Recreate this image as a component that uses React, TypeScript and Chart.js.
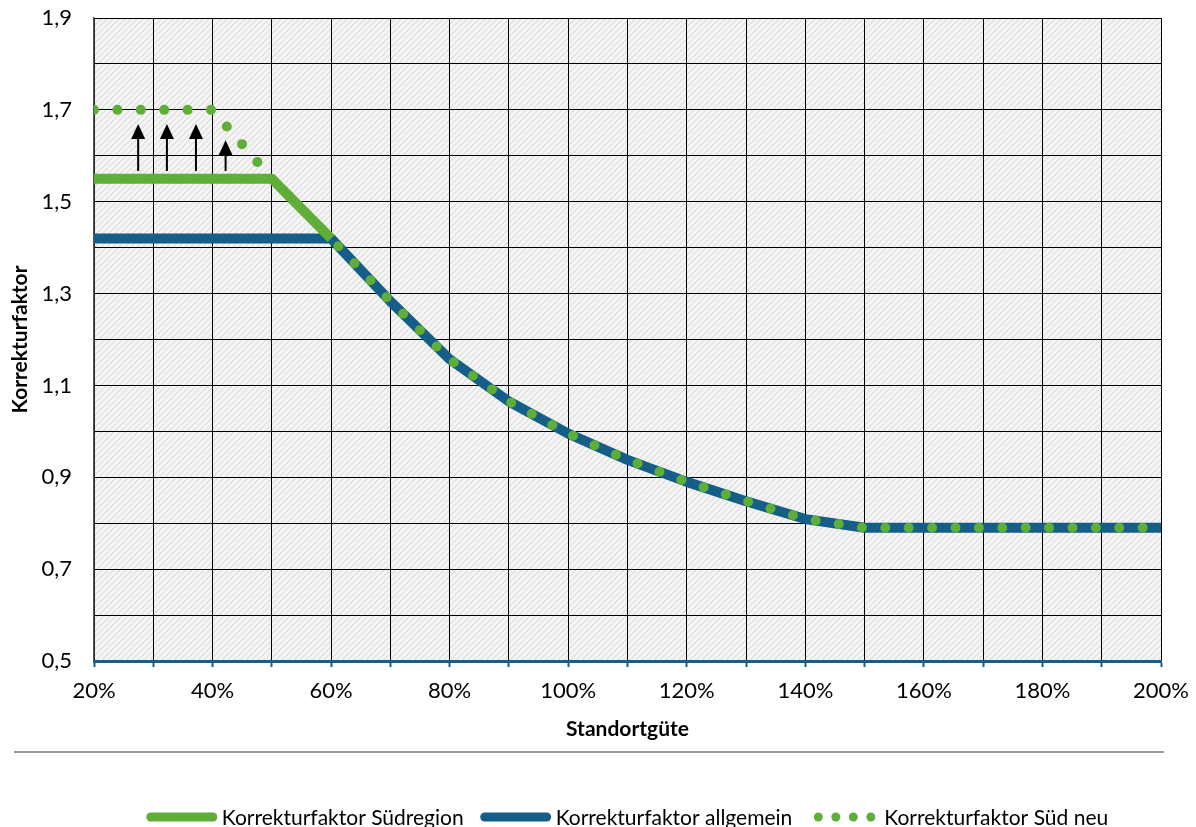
import React, { useEffect, useRef } from "react";
import { Chart, registerables } from "chart.js";

Chart.register(...registerables);

// ---- data ----
const suedregionX = [20, 50, 60];
const suedregionY = [1.55, 1.55, 1.42];

const allgemeinX = [20, 60, 70, 80, 90, 100, 110, 120, 130, 140, 150, 200];
const allgemeinY = [1.42, 1.42, 1.283, 1.157, 1.065, 0.995, 0.938, 0.89, 0.848, 0.809, 0.79, 0.79];

const suedNeuX = [20, 40, 50, 60, 70, 80, 90, 100, 110, 120, 130, 140, 150, 200];
const suedNeuY = [1.7, 1.7, 1.55, 1.42, 1.283, 1.157, 1.065, 0.995, 0.938, 0.89, 0.848, 0.809, 0.79, 0.79];

const arrowX = [27.45, 32.3, 37.2, 42.2];
const arrowFrom = [1.567, 1.567, 1.567, 1.567];
const arrowTo = [1.669, 1.669, 1.669, 1.634];

const xLabeledTicks = [20, 40, 60, 80, 100, 120, 140, 160, 180, 200];
const yLabeledTicks = [0.5, 0.7, 0.9, 1.1, 1.3, 1.5, 1.7, 1.9];

const seriesNames = ["Korrekturfaktor Südregion", "Korrekturfaktor allgemein", "Korrekturfaktor Süd neu"];
const GREEN = "#5FAE37";
const BLUE = "#155E88";
const FONT = "Lato";

const toPoints = (xs: number[], ys: number[]) => xs.map((x, i) => ({ x, y: ys[i] }));

const hatchPlugin = {
  id: "hatch",
  beforeDraw(chart: any) {
    const { ctx, chartArea } = chart;
    const pc = document.createElement("canvas");
    pc.width = 6;
    pc.height = 6;
    const p = pc.getContext("2d")!;
    p.fillStyle = "#f6f6f6";
    p.fillRect(0, 0, 6, 6);
    p.strokeStyle = "#e3e3e3";
    p.lineWidth = 1.6;
    p.beginPath();
    for (let k = -1; k <= 1; k++) {
      p.moveTo(-1 + k * 6, 7);
      p.lineTo(7 + k * 6, -1);
    }
    p.stroke();
    const pat = ctx.createPattern(pc, "repeat");
    ctx.save();
    ctx.fillStyle = pat;
    ctx.fillRect(chartArea.left, chartArea.top, chartArea.right - chartArea.left, chartArea.bottom - chartArea.top);
    ctx.restore();
  },
};

const arrowPlugin = {
  id: "arrows",
  afterDatasetsDraw(chart: any) {
    const { ctx, scales } = chart;
    ctx.save();
    ctx.strokeStyle = "#000";
    ctx.fillStyle = "#000";
    arrowX.forEach((xv, i) => {
      const x = scales.x.getPixelForValue(xv);
      const y0 = scales.y.getPixelForValue(arrowFrom[i]);
      const y1 = scales.y.getPixelForValue(arrowTo[i]);
      ctx.lineWidth = 2;
      ctx.beginPath();
      ctx.moveTo(x, y0);
      ctx.lineTo(x, y1 + 12);
      ctx.stroke();
      ctx.beginPath();
      ctx.moveTo(x, y1);
      ctx.lineTo(x - 7, y1 + 15);
      ctx.lineTo(x + 7, y1 + 15);
      ctx.closePath();
      ctx.fill();
    });
    ctx.restore();
  },
};

const legendPlugin = {
  id: "customLegend",
  afterDraw(chart: any) {
    const { ctx, chartArea } = chart;
    ctx.save();
    // separator line
    ctx.strokeStyle = "#333";
    ctx.lineWidth = 1.2;
    ctx.beginPath();
    ctx.moveTo(14, 752);
    ctx.lineTo(1164, 752);
    ctx.stroke();

    ctx.font = `21px ${FONT}`;
    ctx.textBaseline = "middle";
    ctx.fillStyle = "#000";
    const markerW = 70;
    const gap = 5;
    const itemGap = 17;
    const widths = seriesNames.map((n) => ctx.measureText(n).width);
    const total = widths.reduce((a, w) => a + markerW + gap + w, 0) + itemGap * (seriesNames.length - 1);
    const cx = (chartArea.left + chartArea.right) / 2;
    let x = cx - total / 2;
    const y = 817;
    seriesNames.forEach((name, i) => {
      if (i < 2) {
        ctx.strokeStyle = i === 0 ? GREEN : BLUE;
        ctx.lineWidth = 9;
        ctx.lineCap = "round";
        ctx.beginPath();
        ctx.moveTo(x + 4, y);
        ctx.lineTo(x + markerW - 4, y);
        ctx.stroke();
      } else {
        ctx.fillStyle = GREEN;
        for (let k = 0; k < 4; k++) {
          ctx.beginPath();
          ctx.arc(x + 9 + k * 17.5, y, 4.5, 0, Math.PI * 2);
          ctx.fill();
        }
      }
      ctx.fillStyle = "#000";
      ctx.fillText(name, x + markerW + gap, y + 1);
      x += markerW + gap + widths[i] + itemGap;
    });
    ctx.restore();
  },
};

export default function App() {
  const ref = useRef<HTMLCanvasElement | null>(null);
  useEffect(() => {
    document.body.style.margin = "0";
    const chart = new Chart(ref.current!, {
      type: "line",
      data: {
        datasets: [
          {
            label: seriesNames[2],
            data: toPoints(suedNeuX, suedNeuY),
            borderColor: GREEN,
            borderWidth: 10,
            borderDash: [0, 23.4],
            borderCapStyle: "round",
            borderJoinStyle: "round",
            pointRadius: 0,
            tension: 0,
            order: 0,
          },
          {
            label: seriesNames[0],
            data: toPoints(suedregionX, suedregionY),
            borderColor: GREEN,
            borderWidth: 10,
            borderCapStyle: "butt",
            borderJoinStyle: "round",
            pointRadius: 0,
            tension: 0,
            order: 1,
          },
          {
            label: seriesNames[1],
            data: toPoints(allgemeinX, allgemeinY),
            borderColor: BLUE,
            borderWidth: 10,
            borderCapStyle: "butt",
            borderJoinStyle: "round",
            pointRadius: 0,
            tension: 0,
            order: 2,
          },
        ],
      },
      options: {
        animation: false,
        responsive: false,
        layout: { padding: { top: 18, right: 35, left: 0, bottom: 80 } },
        plugins: { legend: { display: false }, tooltip: { enabled: false } },
        scales: {
          x: {
            type: "linear",
            min: 20,
            max: 200,
            afterFit: (s: any) => {
              s.height = 86;
              s.paddingLeft = 0;
              s.paddingRight = 0;
            },
            ticks: {
              stepSize: 10,
              autoSkip: false,
              maxRotation: 0,
              padding: 11,
              color: "#000",
              font: { family: FONT, size: 22 },
              callback: (v: any) => {
                const n = Math.round(Number(v));
                return xLabeledTicks.includes(n) ? `${n}%` : "";
              },
            },
            grid: { color: "#000", lineWidth: 1, tickColor: BLUE, tickLength: 6, tickWidth: 2 },
            border: { color: BLUE, width: 3 },
            title: {
              display: true,
              text: "Standortgüte",
              color: "#000",
              font: { family: FONT, size: 21, weight: "bold" },
              padding: { top: 0, bottom: 5 },
            },
          },
          y: {
            type: "linear",
            min: 0.5,
            max: 1.9,
            afterFit: (s: any) => {
              s.width = 94;
              s.paddingTop = 0;
              s.paddingBottom = 0;
            },
            ticks: {
              stepSize: 0.1,
              autoSkip: false,
              padding: 22,
              color: "#000",
              font: { family: FONT, size: 22 },
              callback: (v: any) => {
                const n = Math.round(Number(v) * 10) / 10;
                return yLabeledTicks.some((t) => Math.abs(t - n) < 1e-6) ? n.toFixed(1).replace(".", ",") : "";
              },
            },
            grid: { color: "#000", lineWidth: 1, drawTicks: false },
            border: { color: "#555", width: 1.5 },
            title: {
              display: true,
              text: "Korrekturfaktor",
              color: "#000",
              font: { family: FONT, size: 21, weight: "bold" },
              padding: { top: 8, bottom: 0 },
            },
          },
        },
      },
      plugins: [hatchPlugin, arrowPlugin, legendPlugin],
    } as any);
    return () => chart.destroy();
  }, []);
  return <canvas ref={ref} width={1196} height={827} style={{ display: "block" }} />;
}
